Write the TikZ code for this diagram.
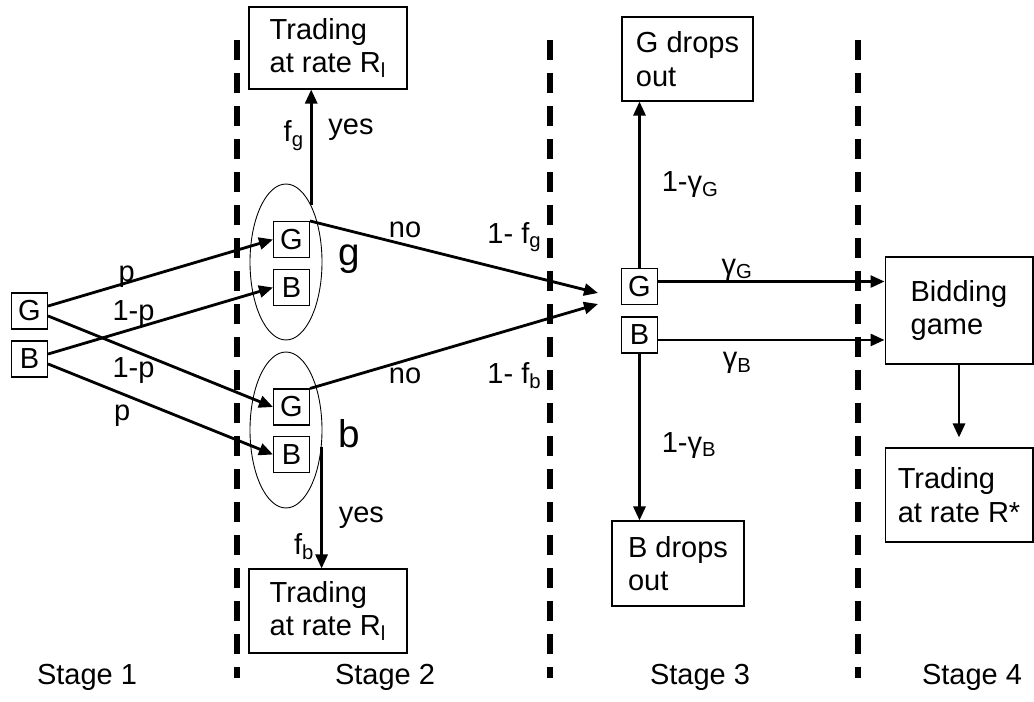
\documentclass[tikz,border=0pt]{standalone}
\usepackage{fontspec}
\setmainfont{Liberation Sans}
\usetikzlibrary{arrows.meta,positioning,shapes.geometric}
\tikzset{
sq/.style={draw,line width=0.6pt,minimum size=0.72cm,inner sep=0pt},
box/.style={draw,line width=0.6pt,align=left,inner sep=0pt},
pool/.style={draw,ellipse,line width=0.5pt,minimum width=1.44cm,minimum height=3.12cm,inner sep=0pt},
stageline/.style={line width=3.8pt,dash pattern=on 0.41cm off 0.25cm},
arr/.style={->,line width=1.6pt}
}
\newcommand{\sub}[1]{\textsubscript{#1}}

\begin{document}
\begin{tikzpicture}[x=0.02cm,y=-0.02cm,font=\fontsize{16.5}{19}\selectfont,>={Triangle[length=0.28cm,width=0.24cm]}]
\useasboundingbox (0,0) rectangle (1034,702);
\foreach \x in {237,550,858} \draw[stageline] (\x,40) -- (\x,678);
\node[sq] (G1) at (29.5,311) {G};
\node[sq] (B1) at (29.5,359) {B};
\node[pool] (eg) at (286,262) {};
\node[pool] (eb) at (286,430) {};
\node[sq] (Gg) at (291.5,239.5) {G};
\node[sq] (Bg) at (291.5,287.5) {B};
\node[sq] (Gb) at (291.5,407) {G};
\node[sq] (Bb) at (291.5,454.5) {B};
\node[font=\fontsize{22}{26}\selectfont] (lg) at (349,259) {g};
\node[font=\fontsize{22}{26}\selectfont] (lb) at (349,434) {b};
\node[box,minimum width=3.16cm,minimum height=1.64cm] (Tg) at (328,48) {Trading\\at rate R\sub{l}};
\node[box,minimum width=3.16cm,minimum height=1.68cm] (Tb) at (328,611) {Trading\\at rate R\sub{l}};
\node[sq] (G3) at (639.5,286.5) {G};
\node[sq] (B3) at (639.5,335) {B};
\coordinate (inG) at (598,293);
\coordinate (inB) at (598,304);
\node[box,minimum width=2.62cm,minimum height=1.68cm] (Gout) at (687.5,59) {G drops\\out};
\node[box,minimum width=2.64cm,minimum height=1.7cm] (Bout) at (678,563.5) {B drops\\out};
\node[box,minimum width=2.96cm,minimum height=2.14cm] (Bid) at (959,310.5) {Bidding\\game};
\node[box,minimum width=2.96cm,minimum height=1.88cm] (Rs) at (959,495) {Trading\\at rate R*};
\node (s1) at (87,677) {Stage 1};
\node (s2) at (385,677) {Stage 2};
\node (s3) at (700,677) {Stage 3};
\node (s4) at (972,677) {Stage 4};
\path[arr]
(G1.15) edge node[pos=0.35,above,yshift=-0.24cm]{p} (Gg.west)
(B1.15) edge node[pos=0.38,above,yshift=-0.1cm]{1-p} (Bg.west)
(G1.-15) edge node[pos=0.38,below]{1-p} (Gb.west)
(B1.-15) edge node[pos=0.33,below,yshift=-0.08cm]{p} (Bb.west)
(Gg.north east) edge node[pos=0.33,above]{no} node[pos=0.71,yshift=0.7cm]{1- f\sub{g}} (inG)
(Gb.north east) edge node[pos=0.33,below]{no} node[pos=0.71,yshift=-0.94cm]{1- f\sub{b}} (inB)
(eg.66) edge node[pos=0.6,left]{f\sub{g}} node[pos=0.65,right=0.2cm]{yes} (eg.66 |- Tg.south)
(eb.-25) edge node[pos=0.58,right=0.2cm]{yes} node[pos=0.82,left]{f\sub{b}} (eb.-25 |- Tb.north)
(G3.north) edge node[pos=0.5,right=0.3cm]{1-γ\sub{G}} (Gout.south -| G3.north)
(B3.south) edge node[pos=0.55,right=0.3cm]{1-γ\sub{B}} (Bout.north -| B3.south)
(G3.15) edge node[pos=0.35,above,yshift=-0.12cm]{γ\sub{G}} (G3.15 -| Bid.west)
(B3.-15) edge node[pos=0.35,below,yshift=-0.1cm]{γ\sub{B}} (B3.-15 -| Bid.west)
(Bid.south) edge[shorten >=0.2cm] (Rs.north);
\end{tikzpicture}
\end{document}
